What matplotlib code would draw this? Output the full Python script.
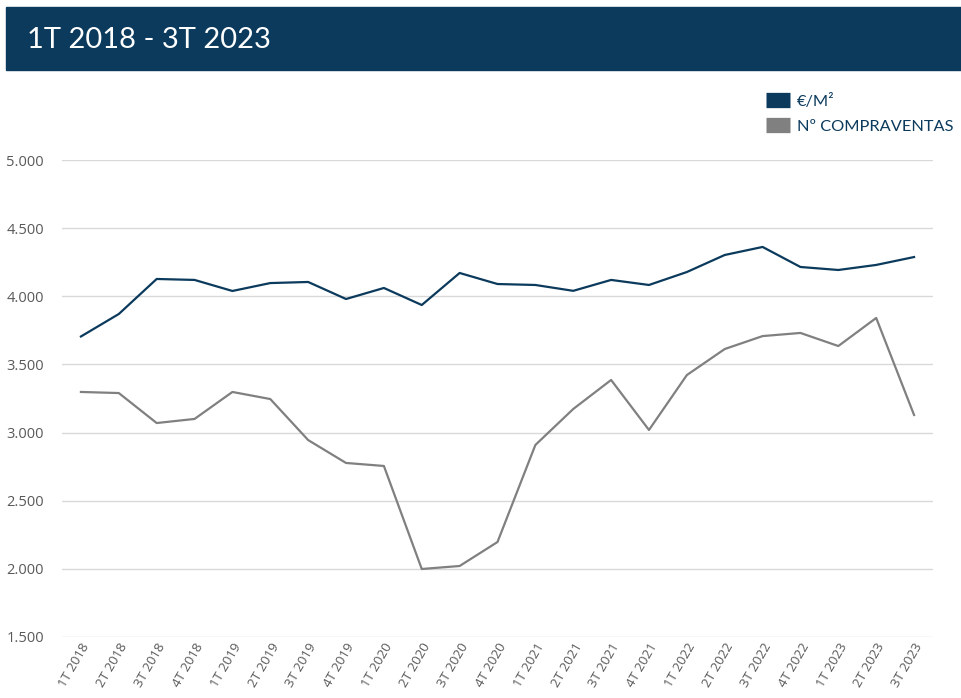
import matplotlib
matplotlib.use("Agg")
import matplotlib.pyplot as plt
from matplotlib.patches import Rectangle
from matplotlib.ticker import FuncFormatter

# trimestres
periodos = ["1T 2018", "2T 2018", "3T 2018", "4T 2018",
            "1T 2019", "2T 2019", "3T 2019", "4T 2019",
            "1T 2020", "2T 2020", "3T 2020", "4T 2020",
            "1T 2021", "2T 2021", "3T 2021", "4T 2021",
            "1T 2022", "2T 2022", "3T 2022", "4T 2022",
            "1T 2023", "2T 2023", "3T 2023"]

precio_m2 = [3705, 3870, 4127, 4120, 4039, 4097, 4105, 3980,
             4061, 3936, 4171, 4090, 4083, 4040, 4120, 4083,
             4178, 4303, 4362, 4215, 4193, 4230, 4288]

compraventas = [3298, 3290, 3070, 3100, 3298, 3246, 2945, 2777,
                2755, 1999, 2021, 2197, 2909, 3173, 3386, 3019,
                3422, 3613, 3708, 3731, 3635, 3841, 3129]

y_ticks = [1500, 2000, 2500, 3000, 3500, 4000, 4500, 5000]

azul = "#0b3a5c"
gris = "#808080"

fig = plt.figure(figsize=(9.62, 6.98), dpi=100)

# banda del titulo
fig.patches.append(Rectangle((6 / 962, 1 - 70 / 698), 956 / 962, 63 / 698,
                             transform=fig.transFigure, color=azul, zorder=0))
fig.text(27 / 962, 1 - 40 / 698, "1T 2018 - 3T 2023", color="white",
         fontsize=21, family="Lato", va="center", ha="left")

ax = fig.add_axes([62 / 962, 1 - 637 / 698, 871 / 962, 477 / 698])
x = list(range(len(periodos)))
ax.plot(x, precio_m2, color=azul, lw=1.6, label="€/M²")
ax.plot(x, compraventas, color=gris, lw=1.6, label="Nº COMPRAVENTAS")

ax.set_xlim(-0.5, len(periodos) - 0.5)
ax.set_ylim(1500, 5000)
ax.set_yticks(y_ticks)
ax.yaxis.set_major_formatter(FuncFormatter(lambda v, p: f"{int(v):,}".replace(",", ".")))
ax.grid(axis="y", color="#d9d9d9", lw=1)
ax.set_axisbelow(True)
for s in ax.spines.values():
    s.set_visible(False)
ax.tick_params(axis="y", length=0, pad=13, labelsize=10.5, labelcolor="#595959")
ax.tick_params(axis="x", length=0, pad=3, labelsize=9.5, labelcolor="#595959")
ax.set_xticks(x)
ax.set_xticklabels(periodos, rotation=60, ha="right", rotation_mode="anchor")
for t in ax.get_xticklabels() + ax.get_yticklabels():
    t.set_family("Open Sans")

leg = fig.legend(loc="upper left", bbox_to_anchor=(751 / 962, 1 - 79 / 698),
                 frameon=False, handlelength=1.45, handleheight=0.8,
                 handletextpad=0.45, labelspacing=0.6,
                 prop={"family": "Lato", "size": 11.8})
for h in leg.legend_handles:
    h.set_linewidth(11)
    h.set_solid_capstyle("butt")
for t in leg.get_texts():
    t.set_color(azul)

fig.savefig("out.png", dpi=100)
